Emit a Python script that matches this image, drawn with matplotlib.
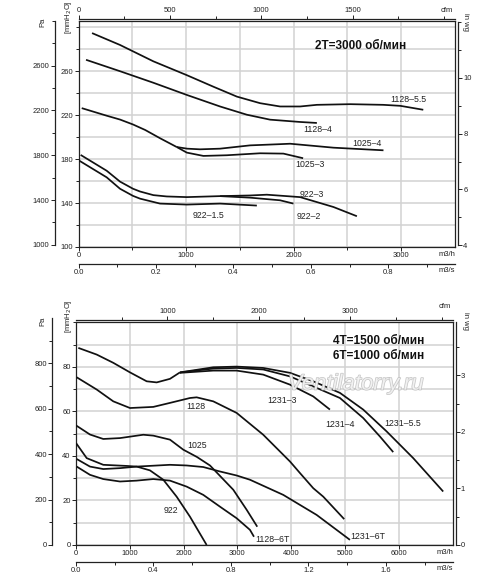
import matplotlib
matplotlib.use("Agg")
import matplotlib.pyplot as plt
import matplotlib.patheffects as pe
from matplotlib.ticker import FixedLocator

# ---------------- top chart: 2T = 3000 rpm  (x: m3/h, y: mmH2O)
t1128_55_x = [126, 386, 696, 1007, 1254, 1472, 1688, 1874, 2060, 2216, 2526, 2833, 2991, 3205]
t1128_55_y = [294.7, 283.9, 269.0, 256.4, 245.9, 236.9, 230.9, 227.9, 227.9, 229.4, 230.0, 229.4, 228.5, 224.9]

t1128_4_x = [70, 386, 696, 1007, 1316, 1565, 1781, 2060, 2216]
t1128_4_y = [270.4, 260.0, 249.5, 238.4, 227.9, 220.4, 215.9, 213.8, 212.9]

t1025_x = [30, 262, 386, 507, 620, 758, 913]
t1025_y = [226.4, 219.5, 216.0, 211.5, 206.5, 199.0, 191.0]
t1025_4_x = [913, 1010, 1130, 1316, 1595, 1874, 1967, 2370, 2835]
t1025_4_y = [191.0, 189.5, 188.9, 189.5, 192.5, 193.6, 194.0, 190.4, 188.0]
t1025_3_x = [913, 1007, 1161, 1379, 1688, 1905, 2088]
t1025_3_y = [191.0, 185.9, 182.9, 183.5, 185.3, 185.0, 180.8]

t922_x = [20, 262, 386, 507, 572, 696, 820, 1007, 1316]
t922_y = [183.8, 169.4, 159.5, 153.0, 150.5, 147.2, 146.0, 145.4, 146.3]
t922_3_x = [1316, 1595, 1751, 2060, 2370, 2588]
t922_3_y = [146.3, 146.9, 147.6, 145.4, 136.4, 128.0]
t922_2_x = [1316, 1595, 1874, 1998]
t922_2_y = [146.3, 144.9, 142.5, 139.5]
t922_15_x = [0, 262, 386, 507, 572, 758, 1007, 1316, 1658]
t922_15_y = [179.0, 163.4, 153.0, 146.5, 144.0, 139.5, 138.6, 139.5, 137.7]

top_labels = ["1128\u20135.5", "1128\u20134", "1025\u20134", "1025\u20133",
              "922\u20133", "922\u20132", "922\u20131.5"]
top_label_x = [3065, 2228, 2684, 2153, 2172, 2144, 1205]
top_label_y = [234.2, 206.9, 194.0, 174.8, 147.8, 128.0, 129.0]

# ---------------- bottom chart: 4T = 1500 / 6T = 1000 rpm
b1231_x = [43, 385, 693, 1004, 1314, 1500, 1747, 1933]
b1231_y = [88.5, 85.5, 81.8, 77.5, 73.5, 73.0, 74.6, 77.5]
b1231_55_x = [1933, 2552, 2987, 3481, 3978, 4411, 4907, 5340, 5775, 6270, 6827]
b1231_55_y = [77.5, 79.8, 80.1, 79.5, 77.3, 73.5, 68.3, 60.8, 51.0, 39.0, 24.0]
b1231_4_x = [1933, 2552, 2987, 3481, 3978, 4411, 4907, 5340, 5651, 5898]
b1231_4_y = [77.5, 79.2, 79.5, 78.8, 75.7, 71.2, 66.0, 57.0, 48.7, 41.7]
b1231_3_x = [1933, 2552, 2987, 3481, 3978, 4411, 4721]
b1231_3_y = [77.3, 78.3, 78.3, 76.5, 72.0, 66.7, 60.8]

b1128_x = [13, 385, 693, 1004, 1437, 1747, 2119, 2243, 2552, 2987, 3481, 3978, 4164, 4411, 4597, 4987]
b1128_y = [75.3, 69.8, 64.5, 61.5, 62.0, 63.8, 66.0, 66.3, 64.5, 59.3, 49.5, 37.5, 32.3, 25.5, 21.7, 11.6]

b1025_x = [0, 260, 507, 818, 1251, 1437, 1747, 1994, 2250, 2491, 2924, 3173, 3370]
b1025_y = [53.7, 49.6, 47.6, 48.0, 49.5, 49.1, 47.3, 42.8, 39.5, 35.7, 24.8, 15.8, 8.2]

b922_x = [0, 199, 507, 942, 1128, 1375, 1623, 1871, 2119, 2429]
b922_y = [45.8, 39.0, 36.0, 35.5, 35.2, 33.5, 29.3, 21.7, 12.7, 0.0]

b1231_6t_x = [13, 260, 507, 818, 1128, 1747, 2058, 2366, 2677, 2987, 3234, 3853, 4474, 5093]
b1231_6t_y = [38.6, 35.2, 34.1, 34.5, 35.2, 36.0, 35.7, 35.0, 33.0, 31.2, 29.3, 22.5, 13.5, 2.3]

b1128_6t_x = [13, 260, 507, 818, 1128, 1437, 1747, 2058, 2366, 2677, 2987, 3234, 3309]
b1128_6t_y = [35.2, 31.5, 29.6, 28.5, 28.9, 29.6, 28.9, 26.2, 22.5, 17.2, 12.0, 6.8, 3.7]

bottom_labels = ["1231\u20133", "1231\u20134", "1231\u20135.5", "1231\u20136T",
                 "1128\u20136T", "1128", "1025", "922"]
bottom_label_x = [3823, 4907, 6078, 5428, 3652, 2221, 2243, 1766]
bottom_label_y = [64.9, 54.0, 54.5, 3.6, 2.6, 62.2, 44.7, 15.3]


def mm_to_pa(v):
    return v * 9.80665


def pa_to_mm(v):
    return v / 9.80665


def mm_to_inwg(v):
    return v / 25.4


def inwg_to_mm(v):
    return v * 25.4


def m3h_to_m3s(v):
    return v / 3600.0


def m3s_to_m3h(v):
    return v * 3600.0


def m3h_to_cfm(v):
    return v / 1.699


def cfm_to_m3h(v):
    return v * 1.699


TICK = dict(direction="out", length=2.6, width=0.7, labelsize=5.5, pad=1.2, colors="#222222")


def style_axes(ax, xlim, ylim, xmaj, xmin, ymaj, ymin,
               pa_maj, pa_min, pa_bounds, wg_maj, wg_min, wg_bounds,
               cfm_maj, cfm_min, ms_maj, ms_min):
    ax.set_xlim(*xlim)
    ax.set_ylim(*ylim)
    ax.xaxis.set_major_locator(FixedLocator(xmaj))
    ax.xaxis.set_minor_locator(FixedLocator(xmin))
    ax.yaxis.set_major_locator(FixedLocator(ymaj))
    ax.yaxis.set_minor_locator(FixedLocator(ymin))
    ax.tick_params(which="both", **TICK)
    ax.tick_params(which="minor", length=2.0)
    ax.grid(True, which="both", color="#d2d2d2", lw=1.1)
    ax.set_axisbelow(True)
    for s in ax.spines.values():
        s.set_linewidth(0.9)
        s.set_color("#222222")

    pa = ax.secondary_yaxis(-0.063, functions=(mm_to_pa, pa_to_mm))
    pa.yaxis.set_major_locator(FixedLocator(pa_maj))
    pa.yaxis.set_minor_locator(FixedLocator(pa_min))
    pa.spines["left"].set_bounds(*pa_bounds)

    wg = ax.secondary_yaxis(1.008, functions=(mm_to_inwg, inwg_to_mm))
    wg.yaxis.set_major_locator(FixedLocator(wg_maj))
    wg.yaxis.set_minor_locator(FixedLocator(wg_min))
    wg.spines["right"].set_bounds(*wg_bounds)

    cfm = ax.secondary_xaxis(1.008, functions=(m3h_to_cfm, cfm_to_m3h))
    cfm.xaxis.set_major_locator(FixedLocator(cfm_maj))
    cfm.xaxis.set_minor_locator(FixedLocator(cfm_min))

    ms = ax.secondary_xaxis(-0.075, functions=(m3h_to_m3s, m3s_to_m3h))
    ms.xaxis.set_major_locator(FixedLocator(ms_maj))
    ms.xaxis.set_minor_locator(FixedLocator(ms_min))

    for sec in (pa, wg, cfm, ms):
        sec.tick_params(which="both", **TICK)
        sec.tick_params(which="minor", length=2.0)
        for s in sec.spines.values():
            s.set_linewidth(0.9)
            s.set_color("#222222")


def fig_text(fig, x, y, s, **kw):
    fig.text(x / 500.0, 1 - y / 581.0, s, fontsize=5.5, color="#222222", **kw)


def main():
    plt.rcParams["font.family"] = ["Liberation Sans", "DejaVu Sans"]
    fig = plt.figure(figsize=(5.0, 5.81), dpi=100)

    ax1 = fig.add_axes([0.157, 0.5749, 0.753, 0.3895])
    ax2 = fig.add_axes([0.152, 0.0620, 0.753, 0.3833])

    line = dict(color="#111111", lw=1.25, solid_joinstyle="round", solid_capstyle="butt", zorder=3)

    # ---- top chart
    for xs, ys in [(t1128_55_x, t1128_55_y), (t1128_4_x, t1128_4_y),
                   (t1025_x, t1025_y), (t1025_4_x, t1025_4_y), (t1025_3_x, t1025_3_y),
                   (t922_x, t922_y), (t922_3_x, t922_3_y), (t922_2_x, t922_2_y),
                   (t922_15_x, t922_15_y)]:
        ax1.plot(xs, ys, **line)
    for s, x, y in zip(top_labels, top_label_x, top_label_y):
        ax1.text(x, y, s, ha="center", va="center", fontsize=6.3, color="#222222")
    ax1.text(2619, 282.6, "2T=3000 об/мин", ha="center", va="center",
             fontsize=8.5, fontweight="bold", color="#111111")

    style_axes(ax1, (0, 3500), (100, 306),
               [0, 1000, 2000, 3000], [500, 1500, 2500],
               [100, 140, 180, 220, 260], [120, 160, 200, 240, 280, 300],
               [1000, 1400, 1800, 2200, 2600], [1200, 1600, 2000, 2400, 2800, 3000], (1000, 3000),
               [4, 6, 8, 10], [5, 7, 9, 11, 12], (4, 12),
               [0, 500, 1000, 1500], [250, 750, 1250, 1750, 2000],
               [0, 0.2, 0.4, 0.6, 0.8], [0.1, 0.3, 0.5, 0.7, 0.9])

    # ---- bottom chart
    for xs, ys in [(b1231_x, b1231_y), (b1231_55_x, b1231_55_y), (b1231_4_x, b1231_4_y),
                   (b1231_3_x, b1231_3_y), (b1128_x, b1128_y), (b1025_x, b1025_y),
                   (b922_x, b922_y), (b1231_6t_x, b1231_6t_y), (b1128_6t_x, b1128_6t_y)]:
        ax2.plot(xs, ys, **line)
    for s, x, y in zip(bottom_labels, bottom_label_x, bottom_label_y):
        ax2.text(x, y, s, ha="center", va="center", fontsize=6.3, color="#222222")
    ax2.text(5632, 88.2, "4T=1500 об/мин\n6T=1000 об/мин", ha="center", va="center",
             fontsize=8.5, fontweight="bold", color="#111111", linespacing=1.25)
    # site watermark, outlined letters
    ax2.text(5200, 72.2, "Ventilatorry.ru", ha="center", va="center", fontsize=16,
             style="italic", color="#f6f6f6", alpha=0.8, zorder=5,
             path_effects=[pe.withStroke(linewidth=1.0, foreground="#b8b8b8")])

    style_axes(ax2, (0, 7000), (0, 100),
               [0, 1000, 2000, 3000, 4000, 5000, 6000], [],
               [0, 20, 40, 60, 80], [10, 30, 50, 70, 90, 100],
               [0, 200, 400, 600, 800], [100, 300, 500, 700, 900], (0, 1000),
               [0, 1, 2, 3], [0.5, 1.5, 2.5, 3.5], (0, 3.94),
               [1000, 2000, 3000], [500, 1500, 2500, 3500, 4000],
               [0, 0.4, 0.8, 1.2, 1.6], [0.2, 0.6, 1.0, 1.4, 1.8])

    # ---- unit captions
    for dy in (0, 299):
        fig_text(fig, 43, 22 + dy, "Pa", rotation=90, ha="center", va="center")
        fig_text(fig, 69, 17 + dy, "[mmH$_2$O]", rotation=90, ha="center", va="center")
        fig_text(fig, 465, 22 + dy, "in wg", rotation=270, ha="center", va="center")
    fig_text(fig, 447, 10, "cfm", ha="center", va="center")
    fig_text(fig, 445, 307, "cfm", ha="center", va="center")
    fig_text(fig, 455, 255, "m3/h", ha="right", va="center")
    fig_text(fig, 455, 270, "m3/s", ha="right", va="center")
    fig_text(fig, 453, 553, "m3/h", ha="right", va="center")
    fig_text(fig, 453, 569, "m3/s", ha="right", va="center")

    fig.savefig("out.png", dpi=100, facecolor="white")


if __name__ == "__main__":
    main()
